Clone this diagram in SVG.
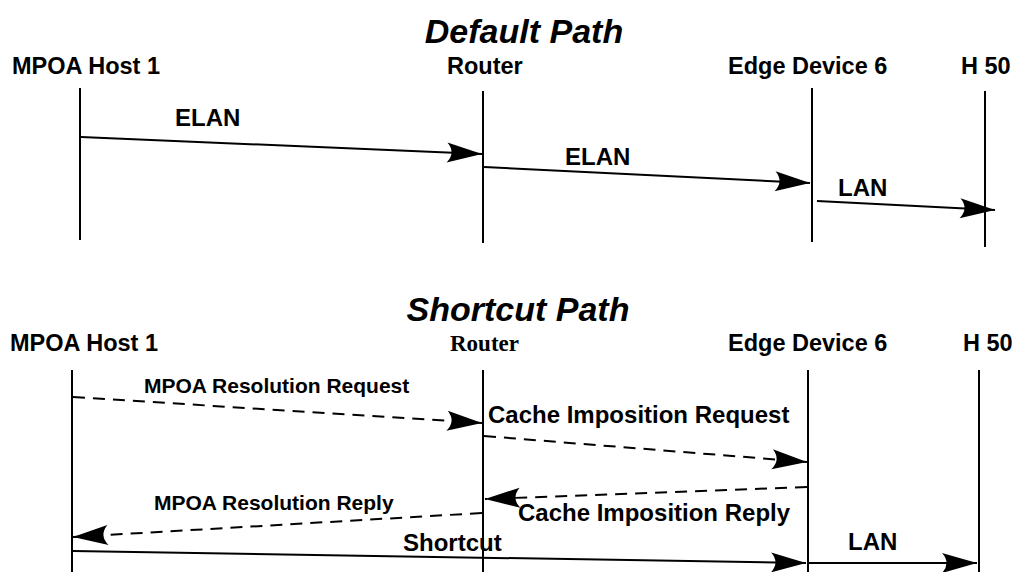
<svg xmlns="http://www.w3.org/2000/svg" width="1018" height="572" viewBox="0 0 1018 572">
<style>
text{font-family:"Liberation Sans",Arial,sans-serif;font-weight:bold;fill:#000}
.title{font-size:34px;font-style:italic;text-anchor:middle}
.hdr{font-size:23.5px}
.lbl{font-size:24px}
.sm{font-size:21px}
.serif{font-family:"Liberation Serif","Times New Roman",serif;font-size:23px}
.life{stroke:#000;stroke-width:2;fill:none}
.msg{stroke:#000;stroke-width:2;fill:none;marker-end:url(#ah)}
.dash{stroke-dasharray:12 8}
</style>
<defs>
<marker id="ah" viewBox="-36 -11 37 22" refX="0" refY="0" markerWidth="37" markerHeight="22" markerUnits="userSpaceOnUse" orient="auto">
<path d="M0,0 L-35,-10 Q-26,0 -35,10 Z" fill="#000" stroke="none"/>
</marker>
</defs>
<rect width="1018" height="572" fill="#fff"/>

<g id="default-path">
<text class="title" x="524" y="43">Default Path</text>
<g id="d-host1"><text class="hdr" x="12" y="74">MPOA Host 1</text><line class="life" x1="80" y1="88" x2="80" y2="240"/></g>
<g id="d-router"><text class="hdr" x="447" y="74">Router</text><line class="life" x1="483" y1="91" x2="483" y2="243"/></g>
<g id="d-edge6"><text class="hdr" x="728" y="74">Edge Device 6</text><line class="life" x1="812" y1="88" x2="812" y2="242"/></g>
<g id="d-h50"><text class="hdr" x="961" y="74">H 50</text><line class="life" x1="985" y1="91" x2="985" y2="247"/></g>
</g>

<g id="shortcut-path">
<text class="title" x="518" y="321">Shortcut Path</text>
<g id="s-host1"><text class="hdr" x="10" y="351">MPOA Host 1</text><line class="life" x1="72" y1="370" x2="72" y2="572"/></g>
<g id="s-router"><text class="serif" x="450" y="351">Router</text><line class="life" x1="483" y1="370" x2="483" y2="572"/></g>
<g id="s-edge6"><text class="hdr" x="728" y="351">Edge Device 6</text><line class="life" x1="808" y1="370" x2="808" y2="572"/></g>
<g id="s-h50"><text class="hdr" x="963" y="351">H 50</text><line class="life" x1="979" y1="370" x2="979" y2="572"/></g>
</g>

<g id="connectors">
<line class="msg" x1="81" y1="137" x2="482" y2="154"/>
<text class="lbl" x="175" y="126">ELAN</text>
<line class="msg" x1="484" y1="167" x2="810" y2="183"/>
<text class="lbl" x="565" y="165">ELAN</text>
<line class="msg" x1="817" y1="201" x2="995" y2="210"/>
<text class="lbl" x="838" y="196">LAN</text>

<line class="msg dash" x1="73" y1="397" x2="482" y2="423"/>
<text class="sm" x="144" y="393">MPOA Resolution Request</text>
<line class="msg dash" x1="484" y1="436" x2="807" y2="462"/>
<text class="lbl" x="488" y="423">Cache Imposition Request</text>
<line class="msg dash" x1="807" y1="487" x2="485" y2="499"/>
<text class="lbl" x="518" y="521">Cache Imposition Reply</text>
<line class="msg dash" x1="482" y1="513" x2="73" y2="537"/>
<text class="sm" x="154" y="510">MPOA Resolution Reply</text>
<line class="msg" x1="73" y1="551" x2="806" y2="563"/>
<text class="lbl" x="403" y="551">Shortcut</text>
<line class="msg" x1="809" y1="563" x2="977" y2="563"/>
<text class="lbl" x="848" y="550">LAN</text>
</g>
</svg>
